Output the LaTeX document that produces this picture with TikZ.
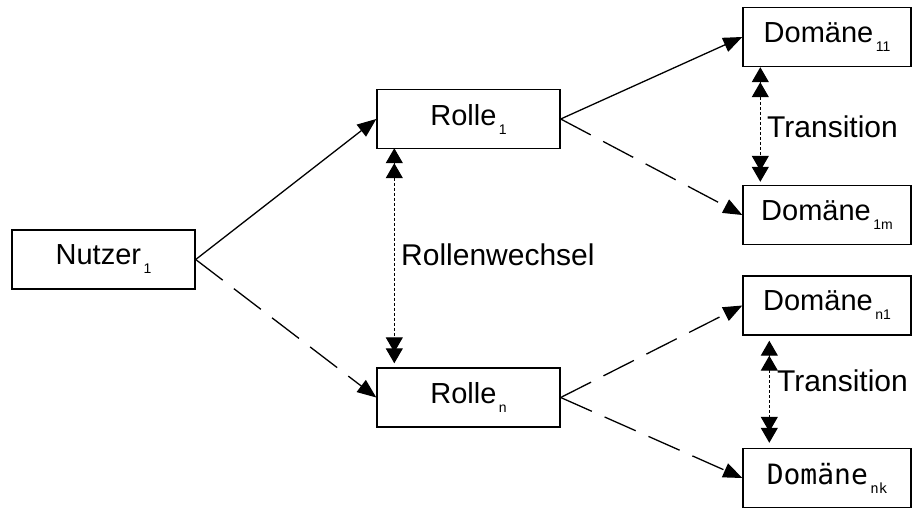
\documentclass[tikz,border=0pt]{standalone}
\usepackage{fontspec}
\setmainfont{Liberation Sans}
\newfontfamily\monofont{DejaVu Sans Mono}
\usetikzlibrary{arrows.meta}

% lowered small index after a name
\newcommand\lowidx[1]{\kern2.5pt\raisebox{-9pt}{\fontsize{14pt}{14pt}\selectfont #1}}

\tikzset{
  box/.style={draw, line width=1.4pt, inner sep=0pt, minimum height=59pt,
    font=\fontsize{29pt}{31pt}\selectfont},
  rolebox/.style={box, minimum width=183pt},
  dombox/.style={box, minimum width=168pt},
  lbl/.style={anchor=west, inner sep=0pt, font=\fontsize{30pt}{32pt}\selectfont},
  solidarrow/.style={line width=1.3pt, -{Triangle[length=19pt, width=15pt]}},
  dasharrow/.style={solidarrow, dash pattern=on 34pt off 14pt},
  swaparrow/.style={line width=1.2pt, dash pattern=on 3pt off 2pt,
    {Triangle[length=15pt,width=17pt,sep=-4pt]Triangle[length=15pt,width=17pt]}-{Triangle[length=15pt,width=17pt,sep=-4pt]Triangle[length=15pt,width=17pt]}}
}

\begin{document}
\begin{tikzpicture}[x=1pt, y=-1pt]
  \useasboundingbox (0,0) rectangle (912,509);

  % users and roles
  \node[rolebox] (nutzer) at (103.5,259.5) {Nutzer\lowidx{1}};
  \node[rolebox] (r1) at (468.5,119) {Rolle\lowidx{1}};
  \node[rolebox] (rn) at (468.5,397.5) {Rolle\lowidx{n}};

  % domains
  \node[dombox] (d11) at (827,37) {Domäne\lowidx{11}};
  \node[dombox] (d1m) at (827,215) {Domäne\lowidx{1m}};
  \node[dombox] (dn1) at (827,305.5) {Domäne\lowidx{n1}};
  \node[dombox, font=\monofont\fontsize{28pt}{30pt}\selectfont] (dnk) at (827,478)
    {Domäne\lowidx{\monofont nk}};

  % assignments
  \draw[solidarrow] (nutzer.east) -- (r1.west);
  \draw[dasharrow] (nutzer.east) -- (rn.west);
  \draw[solidarrow] (r1.east) -- (d11.west);
  \draw[dasharrow] (r1.east) -- (d1m.west);
  \draw[dasharrow] (rn.east) -- (dn1.west);
  \draw[dasharrow] (rn.east) -- (dnk.west);

  % role change and domain transitions
  \coordinate (rwa) at ([shift={(18,3)}]r1.south west);
  \coordinate (rwb) at ([shift={(18,-4)}]rn.north west);
  \draw[swaparrow] (rwa) -- (rwb);
  \node[lbl] (rw) at (401,255) {Rollenwechsel};

  \coordinate (t1a) at ([shift={(18,4)}]d11.south west);
  \coordinate (t1b) at ([shift={(18,-3)}]d1m.north west);
  \draw[swaparrow] (t1a) -- (t1b);
  \node[lbl] (t1) at (767,127) {Transition};

  \coordinate (t2a) at ([shift={(27,9)}]dn1.south west);
  \coordinate (t2b) at ([shift={(27,-5)}]dnk.north west);
  \draw[swaparrow] (t2a) -- (t2b);
  \node[lbl] (t2) at (777,381) {Transition};
\end{tikzpicture}
\end{document}
